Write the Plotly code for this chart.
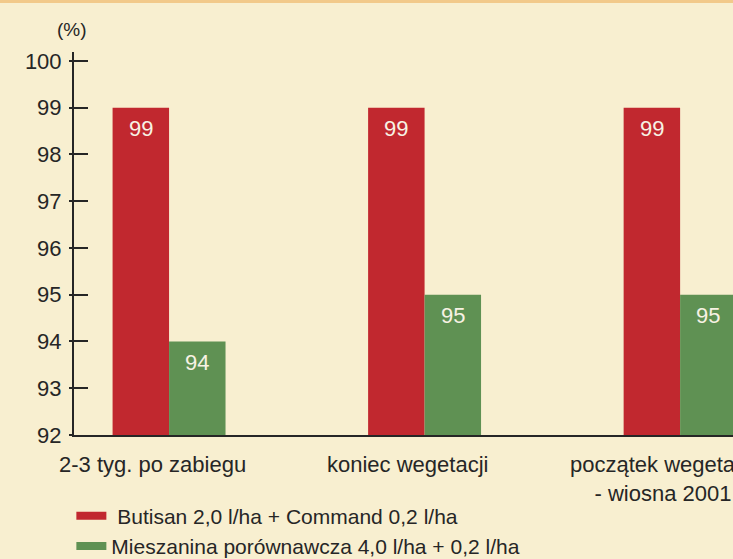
import plotly.graph_objects as go

categories = ["2-3 tyg. po zabiegu", "koniec wegetacji", "początek wegetacji<br>- wiosna 2001"]
series_names = ["\u00a0Butisan 2,0 l/ha + Command 0,2 l/ha", "Mieszanina porównawcza 4,0 l/ha + 0,2 l/ha"]
butisan = [99, 99, 99]
mieszanina = [94, 95, 95]
y_ticks = [92, 93, 94, 95, 96, 97, 98, 99, 100]

RED = "#c1282f"
GREEN = "#5f9153"
BG = "#f8efd0"
INK = "#262626"
FONT = "Liberation Sans, Arial, sans-serif"
BARGAP = 0.558
BASE = 92

fig = go.Figure()
series = [(series_names[0], butisan, RED), (series_names[1], mieszanina, GREEN)]
for name, vals, col in series:
    fig.add_trace(go.Bar(
        x=list(range(len(categories))), y=[v - BASE for v in vals], base=BASE,
        marker=dict(color=col, line=dict(width=0)),
        showlegend=False, hoverinfo="skip",
    ))
# legend proxies
for i, (name, vals, col) in enumerate(series):
    fig.add_trace(go.Scatter(
        x=[None], y=[None], mode="lines", name=name,
        line=dict(color=col, width=8), legendgroup=str(i), showlegend=True,
    ))
# secondary axis for left-side tick stubs
fig.add_trace(go.Scatter(x=[None], y=[None], yaxis="y2", showlegend=False))

# value labels inside the top of each bar, placed via the data axes
bar_w = (1 - BARGAP) / len(series)
annotations = []
for s, (name, vals, col) in enumerate(series):
    off = (s - (len(series) - 1) / 2) * bar_w
    for i, v in enumerate(vals):
        annotations.append(dict(
            x=i + off, y=v, xref="x", yref="y", text=str(v), showarrow=False,
            yanchor="middle", yshift=-21, font=dict(size=22, color="#f7f2e4"),
        ))
# category labels
for i, c in enumerate(categories):
    annotations.append(dict(
        x=i, y=0, xref="x", yref="paper", text=c, showarrow=False,
        xanchor="center", yanchor="top", xshift=-17, yshift=-15,
        font=dict(size=22, color=INK), align="center",
    ))
annotations.append(dict(
    text="(%)", x=0, y=1, xref="paper", yref="paper", xanchor="center", yanchor="bottom",
    xshift=-2, yshift=10, showarrow=False, font=dict(size=19, color=INK),
))

fig.update_layout(
    width=733, height=559,
    margin=dict(l=74, r=0, t=52, b=124, autoexpand=False),
    paper_bgcolor=BG, plot_bgcolor=BG,
    font=dict(family=FONT, size=21, color=INK),
    barmode="group", bargap=BARGAP, bargroupgap=0,
    xaxis=dict(
        range=[-0.372, 2.207], tickvals=list(range(len(categories))),
        showticklabels=False, showgrid=False, zeroline=False,
        showline=True, linecolor=INK, linewidth=2, ticks="",
    ),
    yaxis=dict(
        range=[BASE, 100.19], tickvals=y_ticks, showgrid=False, zeroline=False,
        showline=True, linecolor=INK, linewidth=2,
        ticks="inside", ticklen=14, tickwidth=2, tickcolor=INK,
        ticklabelstandoff=6, tickfont=dict(size=22, color=INK),
    ),
    yaxis2=dict(
        range=[BASE, 100.19], tickvals=y_ticks, overlaying="y", side="left",
        showgrid=False, zeroline=False, showline=False,
        ticks="outside", ticklen=4, tickwidth=2, tickcolor=INK, showticklabels=False,
    ),
    legend=dict(
        x=-0.004, y=-0.158, xanchor="left", yanchor="top", orientation="v",
        bgcolor="rgba(0,0,0,0)", font=dict(size=21, color=INK),
        traceorder="grouped", tracegroupgap=0, itemwidth=30,
    ),
    annotations=annotations,
    shapes=[dict(type="rect", xref="paper", yref="paper", x0=-0.2, x1=1.0, y0=1.128, y1=1.15,
                 fillcolor="#f2c98a", line=dict(width=0), layer="below")],
)
fig.write_html(
    "out.html",
    config={"displayModeBar": False},
    post_script="document.body.style.margin='0';document.body.style.overflow='hidden';",
)
